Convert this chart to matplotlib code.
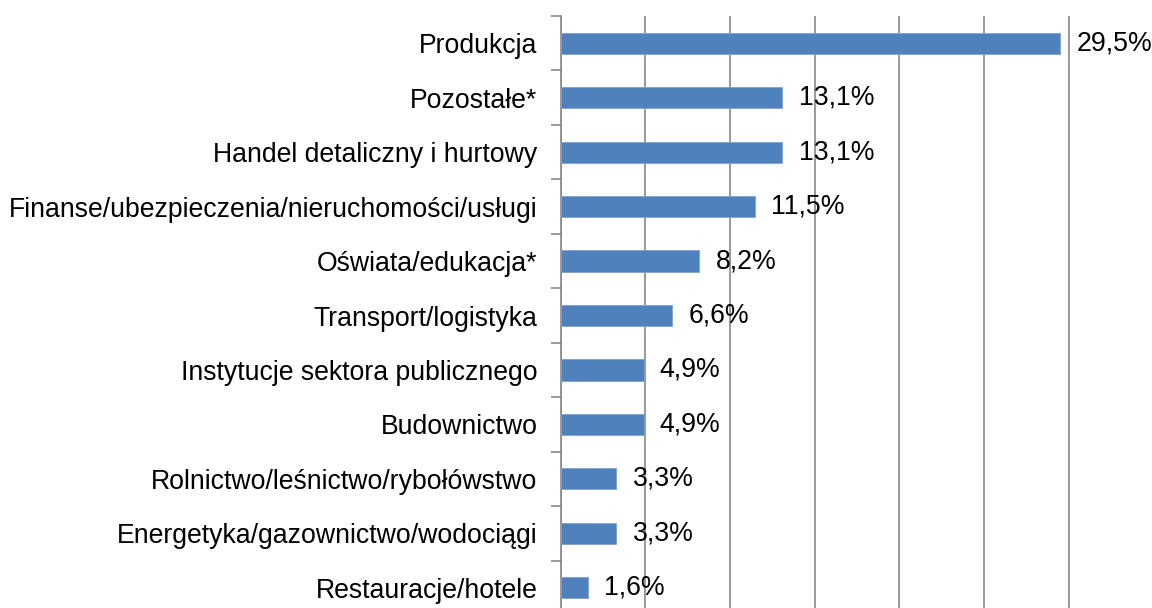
import numpy as np
import matplotlib.pyplot as plt

plt.rcParams['font.family'] = ['Liberation Sans', 'DejaVu Sans']

# ------------------------------------------------------------
# Data (top to bottom as in the chart)
# ------------------------------------------------------------
categories = [
    "Produkcja",
    "Pozostałe*",
    "Handel detaliczny i hurtowy",
    "Finanse/ubezpieczenia/nieruchomości/usługi",
    "Oświata/edukacja*",
    "Transport/logistyka",
    "Instytucje sektora publicznego",
    "Budownictwo",
    "Rolnictwo/leśnictwo/rybołówstwo",
    "Energetyka/gazownictwo/wodociągi",
    "Restauracje/hotele",
]
shares = [29.5, 13.1, 13.1, 11.5, 8.2, 6.6, 4.9, 4.9, 3.3, 3.3, 1.6]
value_labels = ["29,5%", "13,1%", "13,1%", "11,5%", "8,2%", "6,6%",
                "4,9%", "4,9%", "3,3%", "3,3%", "1,6%"]

# ------------------------------------------------------------
# Figure
# ------------------------------------------------------------
fig = plt.figure(figsize=(11.52, 6.08), dpi=100)
ax = fig.add_axes([560.5 / 1152, 1 - 615 / 608, 593 / 1152, 599 / 608])

grid_col = "#878787"
bar_col = "#4F81BD"
fs = 19.2

y = np.arange(len(categories))
ax.barh(y, shares, height=0.39, color=bar_col, edgecolor="#7FA3D0",
        linewidth=0.6, zorder=3)

for yi, v, lab in zip(y, shares, value_labels):
    ax.text(v + 0.95, yi, lab, va="center", ha="left", fontsize=fs,
            color="black", zorder=4)

ax.set_xlim(0, 35)
ax.set_ylim(len(categories) - 0.5, -0.5)
ax.set_xticks(np.arange(0, 36, 5))
ax.xaxis.grid(True, color=grid_col, linewidth=1.2, zorder=0)
ax.tick_params(axis="x", length=0, labelbottom=False)

# category labels at centres, tick marks at category boundaries
ax.set_yticks(y)
ax.set_yticklabels(categories, fontsize=fs)
ax.tick_params(axis="y", which="major", length=0, pad=16.5)
ax.set_yticks(np.arange(-0.5, len(categories) + 0.5, 1), minor=True)
ax.tick_params(axis="y", which="minor", length=7, width=1.2, color=grid_col,
               direction="out")

for side in ["top", "right", "bottom"]:
    ax.spines[side].set_visible(False)
ax.spines["left"].set_color(grid_col)
ax.spines["left"].set_linewidth(1.2)

fig.savefig("out.png", dpi=100)
